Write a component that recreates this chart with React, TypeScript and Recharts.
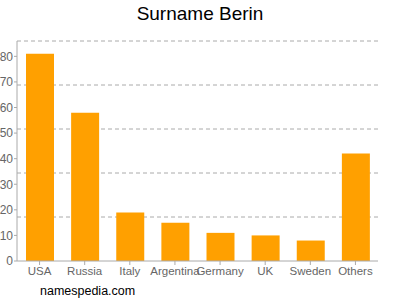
import React from "react";
import { BarChart, Bar, XAxis, YAxis, CartesianGrid } from "recharts";

const categories = ["USA", "Russia", "Italy", "Argentina", "Germany", "UK", "Sweden", "Others"];
const counts = [81, 58, 19, 15, 11, 10, 8, 42];
const yTicks = [0, 10, 20, 30, 40, 50, 60, 70, 80];
const yMax = 86;
const gridFractions = [0.2, 0.4, 0.6, 0.8, 1];

const data = categories.map((name, i) => ({ name, value: counts[i] }));

const font = "'Liberation Sans', Arial, sans-serif";

export default function App() {
  return (
    <div style={{ position: "absolute", left: 0, top: 0, width: 400, height: 300, background: "#fff", fontFamily: font }}>
      <div style={{ position: "absolute", left: 0, top: 3, width: 400, textAlign: "center", fontSize: 19, color: "#000" }}>
        Surname Berin
      </div>
      <BarChart
        width={400}
        height={300}
        data={data}
        margin={{ top: 41, right: 22, bottom: 14, left: 0 }}
      >
        <CartesianGrid
          vertical={false}
          stroke="#aaa"
          strokeDasharray="4 3"
          horizontalCoordinatesGenerator={({ offset }: any) =>
            gridFractions.map((f) => offset.top + offset.height * (1 - f))
          }
        />
        <XAxis
          dataKey="name"
          interval={0}
          tickSize={4}
          tickLine={{ stroke: "#aaa" }}
          axisLine={{ stroke: "#aaa" }}
          tick={{ fill: "#666", fontSize: 11.5, fontFamily: font }}
          height={25}
        />
        <YAxis
          domain={[0, yMax]}
          ticks={yTicks}
          width={17}
          tickSize={3}
          tickMargin={1}
          tickLine={{ stroke: "#aaa" }}
          axisLine={{ stroke: "#aaa" }}
          tick={{ fill: "#666", fontSize: 12, fontFamily: font }}
          interval={0}
        />
        <Bar dataKey="value" fill="#ffa000" barSize={28} isAnimationActive={false} />
      </BarChart>
      <div style={{ position: "absolute", left: 40, top: 284, fontSize: 12.5, color: "#000" }}>
        namespedia.com
      </div>
    </div>
  );
}
